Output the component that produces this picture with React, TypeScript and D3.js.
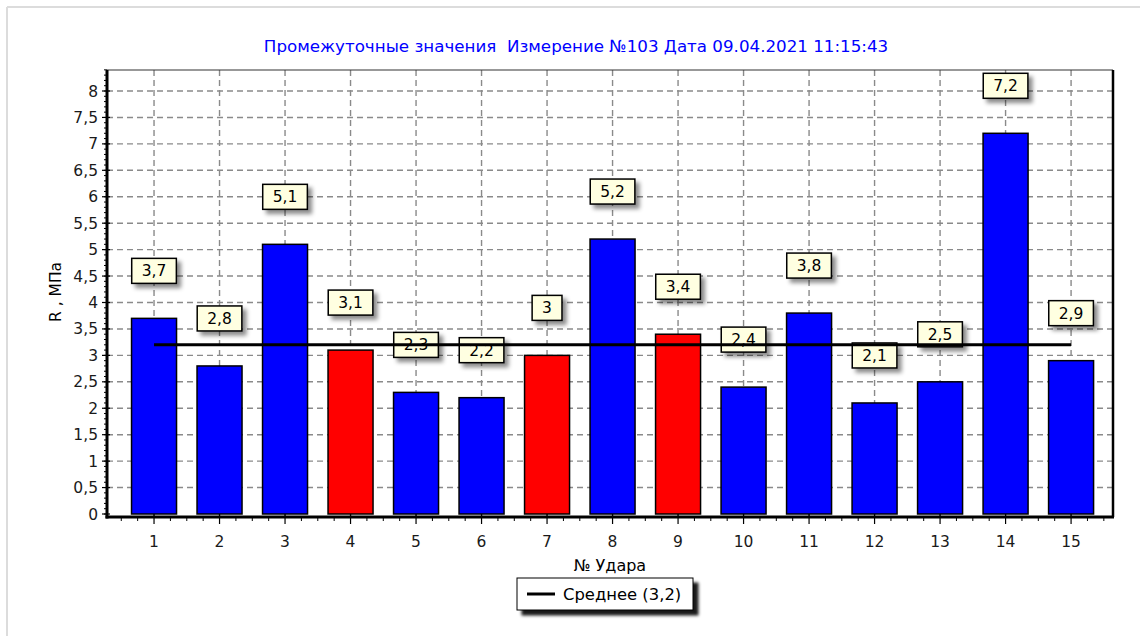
import React from "react";
import * as d3 from "d3";

const categories = [1, 2, 3, 4, 5, 6, 7, 8, 9, 10, 11, 12, 13, 14, 15];
const values = [3.7, 2.8, 5.1, 3.1, 2.3, 2.2, 3.0, 5.2, 3.4, 2.4, 3.8, 2.1, 2.5, 7.2, 2.9];
const highlighted = [4, 7, 9];
const yTicks = [0, 0.5, 1, 1.5, 2, 2.5, 3, 3.5, 4, 4.5, 5, 5.5, 6, 6.5, 7, 7.5, 8];
const meanValue = 3.2;
const title = "Промежуточные значения  Измерение №103 Дата 09.04.2021 11:15:43";
const xLabel = "№ Удара";
const yLabel = "R , МПа";
const legendLabel = "Среднее (3,2)";

const W = 1140;
const H = 636;
const left = 107, right = 1113, top = 70, bottom = 517;
const FONT = "'DejaVu Sans', Verdana, sans-serif";

const fmt = (v: number) => String(v).replace(".", ",");

export default function App() {
  const x = d3.scaleLinear().domain([0.282, 15.64]).range([left, right]);
  const y = d3.scaleLinear().domain([0, 8]).range([514, 91]);
  const barW = 45;
  const minorY = d3.range(0, 8.41, 0.1);
  const minorX = d3.range(0.5, 15.6, 0.25).filter((v) => Math.abs(v - Math.round(v)) > 0.01);

  const textW = (s: string, size: number) =>
    s.split("").reduce((a, ch) => a + (ch === "," ? 0.318 : 0.636), 0) * size;

  return (
    <svg width={W} height={H} style={{ position: "absolute", left: 0, top: 0, background: "#fff" }} fontFamily={FONT}>
      <defs>
        <filter id="lblShadow" x="-30%" y="-30%" width="170%" height="190%">
          <feDropShadow dx="4" dy="4" stdDeviation="2.2" floodColor="#000" floodOpacity="0.45" />
        </filter>
        <filter id="legShadow" x="-10%" y="-30%" width="130%" height="180%">
          <feDropShadow dx="5" dy="5" stdDeviation="1.5" floodColor="#000" floodOpacity="0.9" />
        </filter>
      </defs>
      <rect x={0} y={0} width={W} height={H} fill="#fff" />
      {/* outer frame */}
      <line x1={7} y1={7} x2={W} y2={7} stroke="#dcdcdc" strokeWidth={2} />
      <line x1={7} y1={7} x2={7} y2={H} stroke="#dcdcdc" strokeWidth={2} />

      <text x={576} y={52} textAnchor="middle" fontSize={16.7} fill="#0000ff" style={{ whiteSpace: "pre" }}>{title}</text>

      {/* grid */}
      {yTicks.filter((t) => t > 0).map((t) => (
        <line key={"gy" + t} x1={left} x2={right} y1={y(t)} y2={y(t)} stroke="#8a8a8a" strokeWidth={1.4} strokeDasharray="6,4" />
      ))}
      {categories.map((c) => (
        <line key={"gx" + c} x1={x(c)} x2={x(c)} y1={top} y2={bottom} stroke="#8a8a8a" strokeWidth={1.4} strokeDasharray="6,4" />
      ))}

      {/* bars */}
      {categories.map((c, i) => (
        <rect key={"b" + c} x={x(c) - barW / 2} y={y(values[i])} width={barW} height={y(0) - y(values[i])}
          fill={highlighted.includes(c) ? "#ff0000" : "#0000ff"} stroke="#000" strokeWidth={1.5} />
      ))}

      {/* value labels */}
      {categories.map((c, i) => {
        const s = fmt(values[i]);
        const w = textW(s, 15.5) + 20;
        const by = y(values[i]) - 35;
        return (
          <g key={"l" + c}>
            <rect x={x(c) - w / 2} y={by - 25} width={w} height={25} fill="#ffffe1" stroke="#000" strokeWidth={1.5} filter="url(#lblShadow)" />
            <text x={x(c)} y={by - 7} textAnchor="middle" fontSize={15.5} fill="#000">{s}</text>
          </g>
        );
      })}

      {/* mean line */}
      <line x1={x(1)} x2={x(15)} y1={y(meanValue)} y2={y(meanValue)} stroke="#000" strokeWidth={3} />

      {/* plot frame */}
      <line x1={left} x2={right} y1={top} y2={top} stroke="#333" strokeWidth={1.2} />
      <line x1={right} x2={right} y1={top} y2={bottom} stroke="#000" strokeWidth={2.5} />
      <line x1={left} x2={left} y1={top} y2={bottom + 1.5} stroke="#000" strokeWidth={3} />
      <line x1={left - 1.5} x2={right + 1} y1={bottom} y2={bottom} stroke="#000" strokeWidth={3} />

      {/* y ticks */}
      {minorY.map((t, k) => (
        <line key={"my" + k} x1={left - 3} x2={left} y1={y(t)} y2={y(t)} stroke="#000" strokeWidth={1} />
      ))}
      {yTicks.map((t) => (
        <g key={"ty" + t}>
          <line x1={left - 5} x2={left + 3} y1={y(t)} y2={y(t)} stroke="#000" strokeWidth={1.2} />
          <text x={98} y={y(t) + 5.5} textAnchor="end" fontSize={15.5} fill="#1a1a1a">{fmt(t)}</text>
        </g>
      ))}

      {/* x ticks */}
      {minorX.map((t, k) => (
        <line key={"mx" + k} x1={x(t)} x2={x(t)} y1={bottom} y2={bottom + 4} stroke="#000" strokeWidth={1} />
      ))}
      {categories.map((c) => (
        <g key={"tx" + c}>
          <line x1={x(c)} x2={x(c)} y1={bottom - 3} y2={bottom + 7} stroke="#000" strokeWidth={1.2} />
          <text x={x(c)} y={547} textAnchor="middle" fontSize={15.5} fill="#1a1a1a">{c}</text>
        </g>
      ))}

      <text x={610} y={571} textAnchor="middle" fontSize={16} fill="#000">{xLabel}</text>
      <text transform={`translate(61,292) rotate(-90)`} textAnchor="middle" fontSize={15.5} fill="#000">{yLabel}</text>

      {/* legend */}
      <rect x={517} y={578} width={176} height={32} fill="#fff" stroke="#000" strokeWidth={1} filter="url(#legShadow)" />
      <line x1={527} x2={555} y1={594} y2={594} stroke="#000" strokeWidth={3} />
      <text x={563} y={599.5} fontSize={16.4} fill="#000">{legendLabel}</text>
    </svg>
  );
}
